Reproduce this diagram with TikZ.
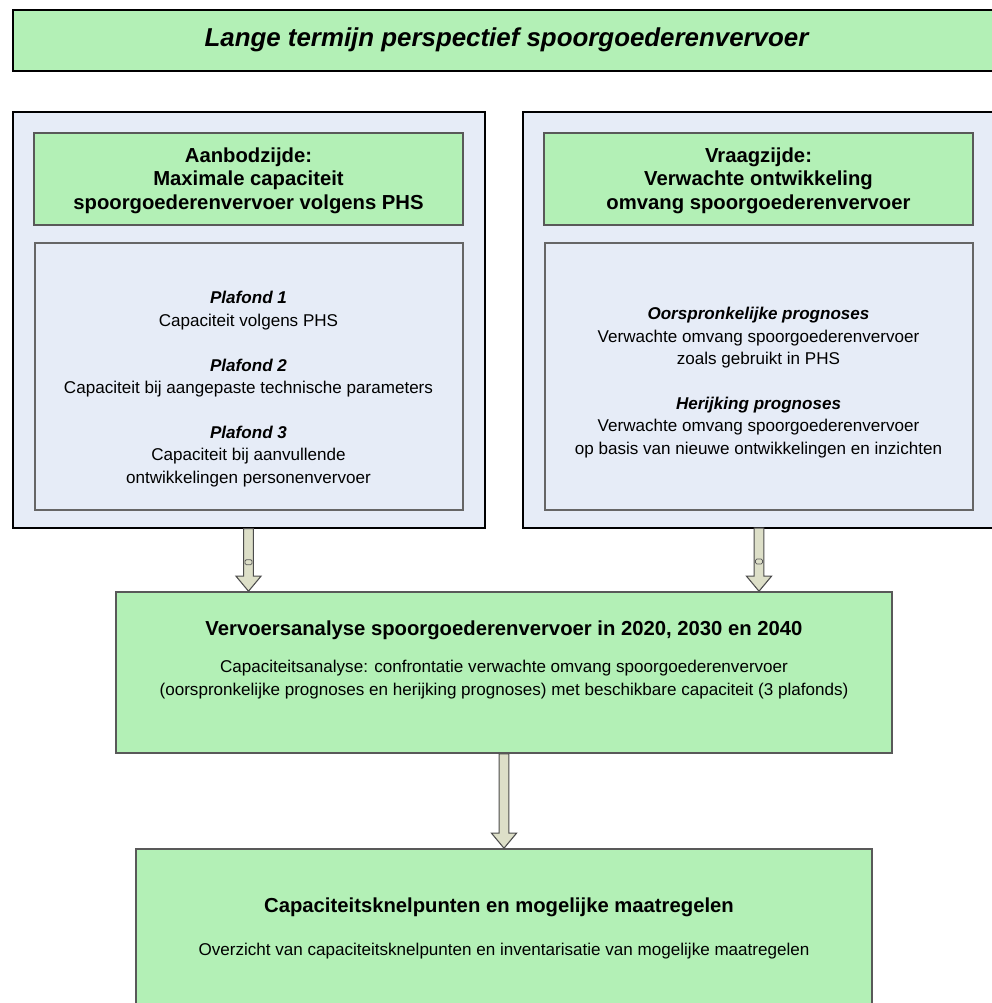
\documentclass[tikz,border=0pt]{standalone}
\usepackage{fontspec}
\setmainfont{Liberation Sans}
\usetikzlibrary{fit,calc}
\definecolor{boxgreen}{RGB}{179,240,182}
\definecolor{boxblue}{RGB}{230,236,247}
\definecolor{arrowfill}{RGB}{221,223,200}
\tikzset{
 outerbox/.style={draw=black, line width=1pt, fill=boxblue, inner sep=0pt},
 titlebox/.style={draw=black, line width=1pt, fill=boxgreen, inner sep=0pt},
 greenbox/.style={draw=black!65, line width=1.2pt, fill=boxgreen, inner sep=0pt},
 innerbox/.style={draw=black!60, line width=1.2pt, fill=boxblue, inner sep=0pt},
 titletext/.style={align=center, font=\fontsize{19.4}{23}\selectfont\bfseries\itshape},
 headtext/.style={align=center, font=\fontsize{15.2}{17.6}\selectfont\bfseries},
 bodytext/.style={align=center, font=\fontsize{12.8}{16.8}\selectfont},
 fatarrow/.style={draw=black!70, line width=0.8pt, fill=arrowfill, line join=miter},
 marker/.style={draw=black!65, line width=0.6pt, fill=arrowfill, rounded corners=1pt},
}
\newcommand{\fatarr}[2]{%
 \draw[fatarrow] ($(#1)+(-4.8,0)$) -- ($(#1)+(4.8,0)$) -- ($(#2)+(4.8,-15)$)
   -- ($(#2)+(12.5,-15)$) -- (#2) -- ($(#2)+(-12.5,-15)$) -- ($(#2)+(-4.8,-15)$) -- cycle;}
\begin{document}
\begin{tikzpicture}[x=0.75pt,y=-0.75pt]
\useasboundingbox (0,0) rectangle (992,1003);
% title
\node[titlebox, fit={(13,10) (1000,71)}] (T) {};
\node[titletext] (Tt) at (506.5,40) {Lange termijn perspectief spoorgoederenvervoer};
% left column
\node[outerbox, fit={(13,112) (485,528)}] (L) {};
\node[greenbox, fit={(34,133) (463,225)}] (LG) {};
\node[headtext] (Lh) at (248.5,180.5) {Aanbodzijde:\\Maximale capaciteit\\spoorgoederenvervoer volgens PHS};
\node[innerbox, fit={(35,243) (463,510)}] (LI) {};
\node[bodytext] (Lb) at (248.5,389) {{\bfseries\itshape Plafond 1}\\Capaciteit volgens PHS\\[16.8pt]
{\bfseries\itshape Plafond 2}\\Capaciteit bij aangepaste technische parameters\\[16.8pt]
{\bfseries\itshape Plafond 3}\\Capaciteit bij aanvullende\\ontwikkelingen personenvervoer};
% right column
\node[outerbox, fit={(523,112) (998,528)}] (R) {};
\node[greenbox, fit={(544,133) (973,225)}] (RG) {};
\node[headtext] (Rh) at (758.5,180.5) {Vraagzijde:\\Verwachte ontwikkeling\\omvang spoorgoederenvervoer};
\node[innerbox, fit={(545,243) (973,510)}] (RI) {};
\node[bodytext] (Rb) at (758.5,382.5) {{\bfseries\itshape Oorspronkelijke prognoses}\\Verwachte omvang spoorgoederenvervoer\\zoals gebruikt in PHS\\[16.8pt]
{\bfseries\itshape Herijking prognoses}\\Verwachte omvang spoorgoederenvervoer\\op basis van nieuwe ontwikkelingen en inzichten};
% middle box
\node[greenbox, fit={(116,592) (892,753)}] (M) {};
\node[headtext] (Mt) at (504,630) {Vervoersanalyse spoorgoederenvervoer in 2020, 2030 en 2040};
\node[bodytext] (Mb) at (504,679.5) {Capaciteitsanalyse: confrontatie verwachte omvang spoorgoederenvervoer\\(oorspronkelijke prognoses en herijking prognoses) met beschikbare capaciteit (3 plafonds)};
% bottom box
\node[greenbox, fit={(136,849) (872,1012)}] (B) {};
\node[headtext] (Bt) at (499,907) {Capaciteitsknelpunten en mogelijke maatregelen};
\node[bodytext] (Bb) at (504,951) {Overzicht van capaciteitsknelpunten en inventarisatie van mogelijke maatregelen};
% arrows
\coordinate (LS) at ($(L.south)+(-0.5,0)$);
\coordinate (LE) at (LS |- M.north);
\coordinate (RS) at (759,528);
\coordinate (RE) at (RS |- M.north);
\coordinate (MS) at (M.south);
\coordinate (ME) at (MS |- B.north);
\fatarr{LS}{LE}
\fatarr{RS}{RE}
\fatarr{MS}{ME}
\draw[marker] ($(LS)+(-3.5,31)$) rectangle ($(LS)+(3.5,36)$);
\draw[marker] ($(RS)+(-3.5,31)$) rectangle ($(RS)+(3.5,36)$);
\end{tikzpicture}
\end{document}
